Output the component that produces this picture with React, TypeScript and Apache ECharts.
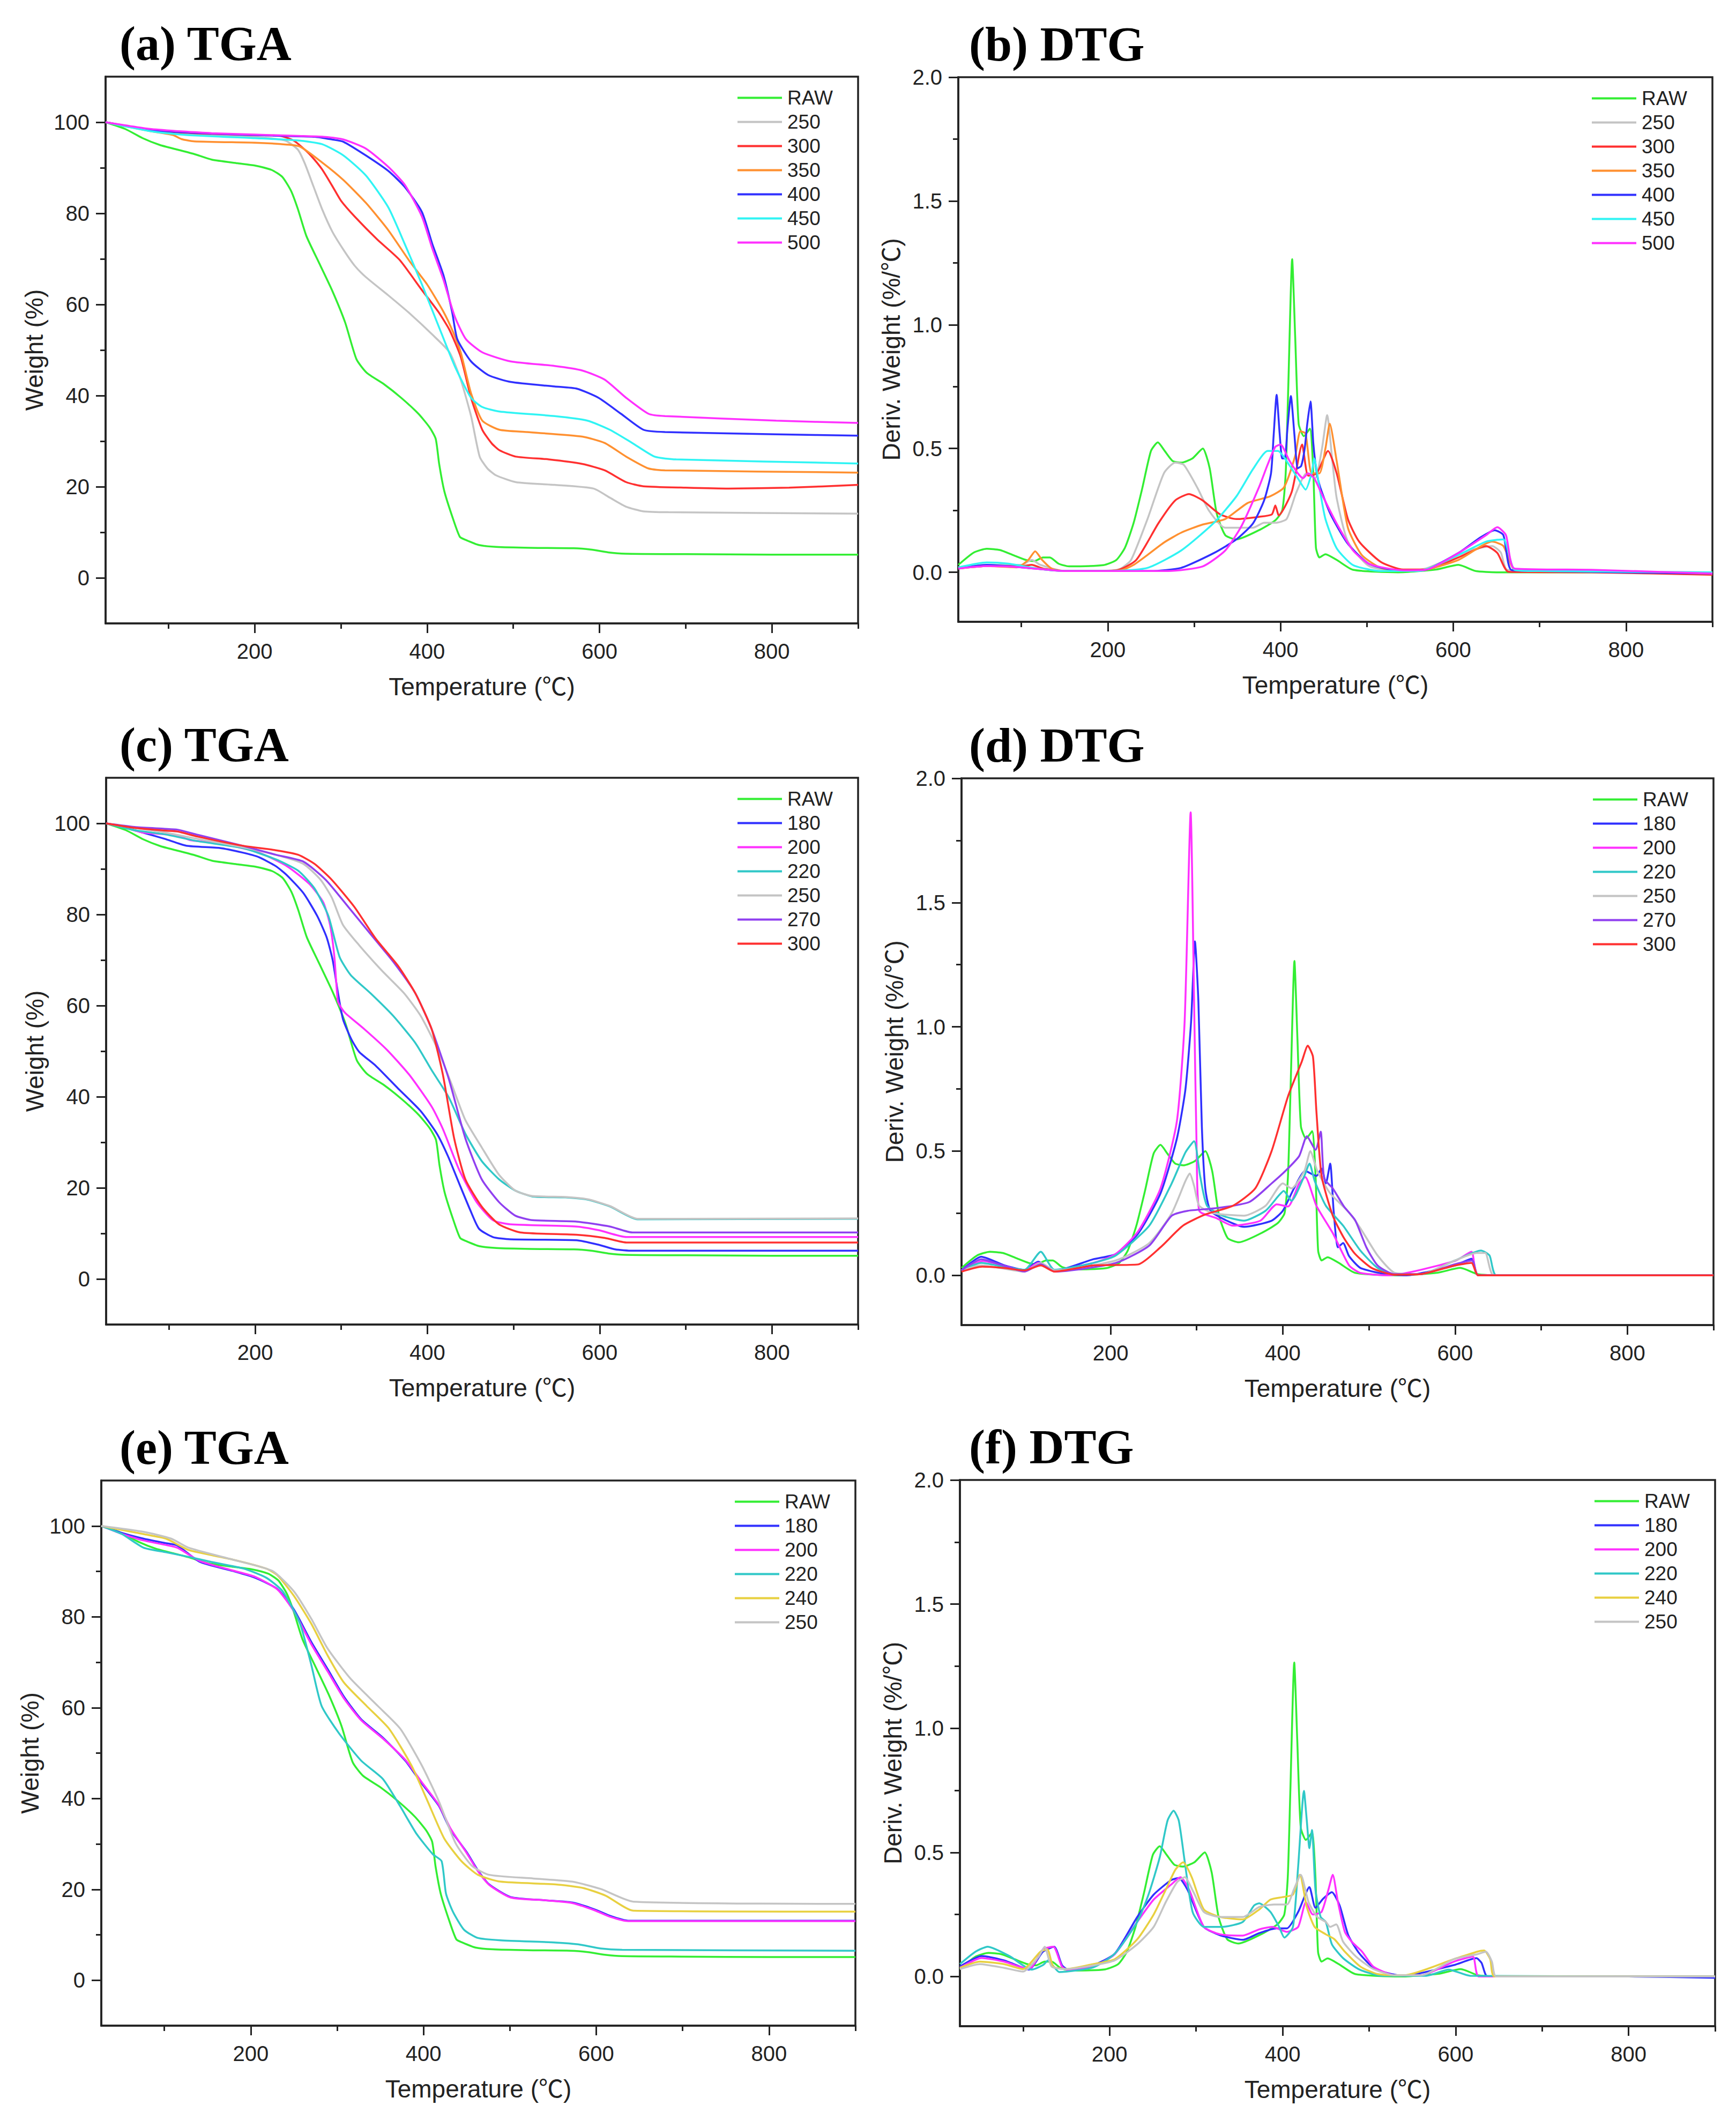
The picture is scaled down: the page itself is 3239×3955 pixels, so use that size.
import * as echarts from 'echarts';
import { useEffect, useRef } from 'react';

type Pt = [number, number];

// ---- TGA curves (weight %, vs temperature °C) ----
const TGA_RAW: Pt[] = [[27,100],[50,98.5],[70,96.5],[90,95],[110,94],[130,93],[150,91.8],[180,91],[200,90.5],[220,89.5],[232,88],[242,85],[250,81],[260,75],[275,69],[290,63],[305,56],[318,48],[330,45],[350,42.5],[370,39.5],[390,36],[403,33],[410,30.5],[414,25],[420,19],[430,13],[438,9],[445,8.3],[460,7.2],[480,6.8],[520,6.6],[570,6.5],[590,6.2],[610,5.6],[630,5.3],[700,5.2],[800,5.1],[900,5.1]];

const TGA_A_250: Pt[] = [[27,100],[70,98.5],[120,97.3],[200,96.8],[235,96],[250,94],[258,91],[268,86],[278,81],[290,76],[303,72],[316,68.5],[329,66],[355,62],[380,58],[406,53.4],[426,49.5],[439,43.5],[451,35.5],[461,26.6],[470,24],[480,22.5],[503,21],[548,20.4],[593,19.6],[612,17.6],[631,15.6],[651,14.6],[680,14.4],[900,14.1]];
const TGA_A_300: Pt[] = [[27,100],[80,98.3],[130,97.6],[200,97.2],[230,97],[245,96],[255,94.5],[265,92.7],[278,89.7],[290,86],[300,82.8],[316,79.3],[342,74.3],[368,69.8],[393,63.4],[413,58.4],[426,54.4],[439,48.5],[451,39.5],[464,32.5],[475,29.5],[484,28],[503,26.6],[541,26],[580,25],[606,23.6],[631,21],[651,20.1],[700,19.8],[750,19.6],[820,19.8],[900,20.4]];
const TGA_A_350: Pt[] = [[27,100],[80,98],[105,97.2],[115,96.3],[130,95.8],[200,95.5],[230,95.2],[252,94.7],[278,91.2],[303,87.3],[329,82.3],[355,76.3],[380,69.4],[400,64.4],[419,58.4],[430,54],[439,49.5],[451,40.5],[464,34.5],[484,32.5],[516,32],[580,31],[606,29.6],[631,26.6],[657,24],[676,23.6],[900,23.1]];
const TGA_A_400: Pt[] = [[27,100],[80,98.3],[150,97.5],[230,97],[270,96.8],[290,96.2],[303,95.7],[329,92.7],[355,89.3],[374,85.8],[394,80.3],[406,73.3],[419,66.4],[429,58.4],[435,52.4],[451,47.5],[471,44.5],[497,43],[548,42],[574,41.5],[599,39.5],[625,36],[651,32.5],[676,32],[805,31.5],[900,31.2]];
const TGA_A_450: Pt[] = [[27,100],[80,98],[120,97.2],[200,96.5],[250,96],[278,95.2],[303,92.7],[329,88.3],[355,81.3],[374,73.3],[394,64.4],[413,55.4],[432,46.5],[451,39.5],[464,37.5],[484,36.5],[548,35.5],[586,34.5],[612,32.5],[638,29.6],[664,26.6],[689,26],[900,25.1]];
const TGA_A_500: Pt[] = [[27,100],[80,98.5],[150,97.6],[250,97],[280,96.8],[303,96.2],[329,94.2],[355,90.2],[374,86.3],[394,79.3],[406,72.3],[419,65.4],[432,57.4],[445,52.4],[464,49.5],[497,47.5],[548,46.5],[580,45.5],[606,43.5],[631,39.5],[657,36],[676,35.5],[805,34.5],[900,34]];

const TGA_C_180: Pt[] = [[27,100],[50,99],[69,98],[95,96.6],[120,95.1],[159,94.6],[185,93.6],[204,92.6],[224,90.6],[237,88.6],[256,84.7],[272,79.7],[283,75],[290,70],[296,63],[302,57],[312,52.5],[321,49.8],[340,46.8],[366,41.8],[392,36.9],[411,31.9],[424,26.9],[437,20.9],[450,15],[460,11],[476,9.2],[496,8.7],[573,8.5],[599,7.5],[618,6.5],[638,6.2],[900,6.2]];
const TGA_C_200: Pt[] = [[27,100],[50,99],[69,98],[95,97.6],[110,97.3],[125,96.3],[159,95.6],[204,93.6],[237,90.6],[263,86.7],[279,82.7],[287,77.7],[292,70.7],[296,61],[300,59.5],[305,58.3],[327,54.8],[353,50.3],[379,44.8],[405,37.8],[418,32.9],[437,23.9],[457,16.9],[476,12.9],[496,12],[573,11.5],[599,10.7],[631,9.2],[900,9.2]];
const TGA_C_220: Pt[] = [[27,100],[60,98.5],[95,97.6],[133,96.1],[185,94.6],[224,92.1],[250,89.6],[269,85.7],[285,79.7],[298,70.7],[311,66.7],[334,62.7],[360,57.8],[386,51.8],[405,45.8],[425,39.8],[444,31.9],[463,25.9],[483,21.9],[502,19.4],[522,18.1],[560,17.9],[586,17.4],[612,15.9],[644,13.1],[900,13.2]];
const TGA_C_250: Pt[] = [[27,100],[60,99],[95,98],[133,96.6],[185,94.8],[224,93.1],[256,91.1],[276,87.6],[289,83.7],[302,77.7],[321,73.2],[347,67.7],[373,62.7],[392,57.8],[411,50.8],[428,42.8],[444,34.9],[463,28.9],[483,22.9],[502,19.4],[522,18.2],[560,18],[586,17.5],[612,16],[644,13.2],[900,13.3]];
const TGA_C_270: Pt[] = [[27,100],[60,99.2],[95,98.8],[110,98.6],[133,97.5],[185,95.1],[224,93.1],[256,91.6],[282,87.6],[308,81.7],[334,75.7],[360,69.7],[386,62.7],[405,54.8],[425,43.8],[444,30.9],[463,21.9],[483,16.9],[502,13.9],[522,12.9],[573,12.6],[612,11.5],[638,10.2],[900,10.2]];
const TGA_C_300: Pt[] = [[27,100],[60,99],[95,98.4],[110,98.2],[133,97.1],[185,95.1],[224,94.1],[250,93.1],[269,91.1],[289,87.6],[315,81.7],[340,74.7],[366,68.7],[386,62.7],[405,54.8],[418,44.8],[431,30.9],[444,21.9],[463,15.9],[483,12],[508,10.2],[573,9.7],[606,9],[631,8],[900,8]];

const TGA_E_180: Pt[] = [[27,100],[50,98.5],[76,97.2],[102,96.2],[115,95.7],[141,92.1],[179,90.1],[205,88.6],[231,86.1],[250,81.6],[270,74.5],[289,68.5],[308,62.4],[328,57.4],[353,53.4],[379,48.3],[398,43.3],[418,38.3],[431,33.2],[450,28.2],[463,24.2],[476,21.1],[501,18.3],[540,17.6],[572,17.1],[598,15.6],[617,14.1],[637,13.1],[900,13.1]];
const TGA_E_200: Pt[] = [[27,100],[50,98.3],[76,96.8],[102,95.8],[115,95.2],[141,92.3],[179,90.2],[205,88.8],[231,86],[250,81.2],[270,74],[289,68],[308,62],[328,57.2],[353,53.2],[379,48.5],[398,43.6],[418,38.5],[431,33.5],[450,28],[463,24],[476,21],[501,18.2],[540,17.6],[572,17],[598,15.4],[617,13.9],[637,13],[900,13]];
const TGA_E_220: Pt[] = [[27,100],[51,98.2],[76,95.2],[102,94.2],[128,93.2],[154,92.1],[192,90.6],[218,88.6],[237,85.6],[257,78.5],[270,69.5],[282,60.4],[302,54.4],[328,48.3],[353,44.3],[373,38.3],[392,32.2],[411,27.7],[421,26.2],[426,19.1],[434,15.1],[447,11.1],[463,9.3],[489,8.8],[553,8.3],[579,7.9],[605,7],[630,6.7],[900,6.5]];
const TGA_E_240: Pt[] = [[27,100],[76,98.2],[102,97.2],[128,94.7],[179,92.6],[218,90.6],[231,89.1],[250,84.6],[270,78.5],[289,71.5],[308,65.5],[334,60.4],[360,55.4],[386,47.3],[405,39.3],[424,31.2],[444,26.2],[463,23.2],[489,21.7],[553,21.1],[585,20.3],[611,18.6],[643,15.3],[900,15.1]];
const TGA_E_250: Pt[] = [[27,100],[76,98.7],[108,97.2],[128,95.2],[179,92.6],[225,90.1],[250,85.6],[270,79.6],[289,73],[315,66.5],[347,60.4],[373,55.4],[398,47.3],[418,39.3],[437,30.2],[456,25.2],[476,23.2],[527,22.4],[572,21.7],[605,20.1],[643,17.3],[900,16.8]];

// ---- DTG curves (deriv. weight %/°C) ----
const DTG_RAW: Pt[] = [[27,0.03],[45,0.08],[60,0.095],[75,0.09],[90,0.07],[105,0.05],[115,0.045],[125,0.06],[133,0.06],[143,0.035],[155,0.024],[195,0.029],[210,0.05],[220,0.1],[230,0.2],[240,0.34],[250,0.49],[258,0.525],[266,0.49],[275,0.45],[285,0.443],[298,0.46],[310,0.5],[318,0.42],[326,0.24],[336,0.15],[349,0.133],[375,0.17],[394,0.21],[402,0.25],[406,0.4],[409,0.75],[413.5,1.265],[417,0.95],[421,0.6],[427,0.55],[434,0.58],[438,0.4],[441,0.1],[445,0.06],[452,0.073],[465,0.05],[484,0.01],[536,0],[580,0.011],[606,0.03],[626,0.005],[650,0],[900,0]];

const DTG_B_250: Pt[] = [[27,0.02],[60,0.03],[100,0.03],[112,0.05],[122,0.03],[150,0.005],[200,0.005],[215,0.015],[227,0.05],[246,0.215],[265,0.4],[278,0.443],[288,0.434],[304,0.34],[317,0.25],[336,0.18],[368,0.18],[381,0.2],[394,0.2],[407,0.215],[418,0.32],[430,0.4],[440,0.38],[448,0.5],[454,0.635],[460,0.45],[465,0.3],[478,0.124],[503,0.024],[542,0.005],[568,0.015],[619,0.088],[645,0.106],[655,0.08],[662,0.011],[700,0.005],[900,0]];
const DTG_B_300: Pt[] = [[27,0.015],[60,0.025],[100,0.025],[112,0.03],[125,0.015],[150,0.005],[210,0.008],[233,0.05],[259,0.2],[278,0.29],[294,0.316],[310,0.29],[330,0.234],[349,0.215],[375,0.224],[390,0.234],[394,0.27],[398,0.23],[413,0.325],[425,0.516],[432,0.39],[442,0.4],[455,0.49],[465,0.4],[478,0.215],[491,0.124],[516,0.042],[542,0.011],[568,0.011],[606,0.06],[638,0.106],[651,0.078],[664,0.002],[760,0],[900,-0.01]];
const DTG_B_350: Pt[] = [[27,0.015],[60,0.025],[95,0.02],[108,0.05],[116,0.085],[124,0.05],[135,0.015],[150,0.005],[215,0.008],[230,0.03],[246,0.07],[265,0.12],[285,0.16],[310,0.193],[336,0.215],[362,0.28],[388,0.307],[404,0.343],[417,0.47],[423,0.57],[429,0.56],[436,0.4],[445,0.4],[452,0.5],[457,0.6],[465,0.45],[478,0.18],[494,0.07],[516,0.018],[542,0.005],[568,0.01],[606,0.05],[645,0.124],[658,0.106],[671,0.01],[700,0.005],[900,-0.005]];
const DTG_B_400: Pt[] = [[27,0.015],[60,0.03],[100,0.02],[150,0.005],[250,0.005],[285,0.018],[323,0.078],[349,0.133],[368,0.197],[381,0.29],[389,0.4],[392,0.55],[395.5,0.717],[399,0.56],[402,0.46],[405,0.46],[408,0.58],[412,0.712],[416,0.56],[420,0.42],[424,0.43],[428,0.5],[431,0.6],[434.7,0.69],[438,0.52],[442,0.4],[446,0.343],[458,0.234],[478,0.115],[503,0.033],[542,0.005],[568,0.01],[606,0.078],[632,0.142],[648,0.17],[658,0.15],[667,0.01],[700,0.005],[900,-0.005]];
const DTG_B_450: Pt[] = [[27,0.02],[60,0.04],[85,0.035],[110,0.02],[130,0.01],[150,0.005],[200,0.005],[246,0.018],[285,0.088],[323,0.2],[349,0.307],[368,0.416],[385,0.49],[397,0.49],[410,0.434],[420,0.38],[429,0.334],[436,0.4],[439,0.46],[445,0.343],[452,0.215],[465,0.097],[484,0.029],[516,0.005],[560,0.005],[606,0.07],[638,0.124],[658,0.133],[671,0.01],[700,0.005],[900,0]];
const DTG_B_500: Pt[] = [[27,0.015],[60,0.025],[100,0.02],[150,0.005],[270,0.005],[310,0.024],[336,0.088],[355,0.188],[375,0.343],[385,0.434],[394,0.507],[400,0.516],[410,0.453],[420,0.4],[426,0.38],[432,0.4],[439,0.38],[449,0.307],[465,0.197],[484,0.088],[503,0.033],[542,0.008],[568,0.01],[606,0.078],[638,0.15],[651,0.182],[661,0.15],[671,0.015],[760,0.01],[900,-0.005]];

const DTG_D_180: Pt[] = [[27,0.02],[50,0.075],[77,0.04],[100,0.022],[116,0.055],[135,0.018],[180,0.065],[206,0.086],[232,0.168],[258,0.33],[277,0.55],[287,0.75],[293.5,1.02],[298,1.344],[302,1.1],[306,0.6],[310,0.35],[316,0.26],[335,0.22],[355,0.195],[387,0.22],[400,0.26],[413,0.35],[426,0.42],[439,0.4],[445,0.43],[450,0.37],[455,0.45],[459,0.26],[464,0.113],[470,0.13],[477,0.077],[490,0.03],[516,0.007],[542,0],[600,0.04],[619,0.067],[627,0],[900,0]];
const DTG_D_200: Pt[] = [[27,0.02],[52,0.058],[80,0.035],[100,0.018],[116,0.05],[135,0.022],[180,0.05],[206,0.086],[232,0.177],[258,0.35],[277,0.62],[286,1.02],[293,1.863],[297,1.1],[300,0.5],[303,0.26],[323,0.23],[342,0.2],[374,0.22],[393,0.286],[406,0.277],[419,0.37],[426,0.396],[439,0.28],[458,0.17],[477,0.04],[490,0.01],[523,0],[600,0.058],[619,0.095],[627,0],[900,0]];
const DTG_D_220: Pt[] = [[27,0.02],[50,0.05],[75,0.035],[100,0.022],[119,0.095],[135,0.022],[180,0.05],[206,0.08],[245,0.2],[271,0.37],[287,0.495],[297,0.54],[304,0.4],[312,0.28],[330,0.24],[355,0.22],[380,0.26],[395,0.32],[401,0.34],[410,0.3],[425,0.4],[431,0.45],[437,0.38],[450,0.28],[470,0.2],[490,0.1],[510,0.03],[530,0.005],[560,0.005],[600,0.06],[630,0.1],[640,0.08],[648,0],[900,0]];
const DTG_D_250: Pt[] = [[27,0.02],[50,0.04],[100,0.015],[119,0.05],[135,0.02],[206,0.06],[245,0.13],[271,0.25],[287,0.38],[292,0.41],[297,0.36],[303,0.28],[320,0.25],[355,0.24],[380,0.28],[400,0.37],[410,0.35],[425,0.42],[432,0.5],[440,0.42],[455,0.33],[475,0.26],[490,0.19],[510,0.08],[530,0.01],[560,0.005],[600,0.06],[625,0.09],[635,0.09],[645,0],[900,0]];
const DTG_D_270: Pt[] = [[27,0.02],[50,0.065],[75,0.04],[100,0.015],[119,0.045],[135,0.015],[206,0.05],[245,0.12],[271,0.24],[290,0.26],[322,0.27],[361,0.295],[387,0.37],[403,0.42],[419,0.48],[428,0.56],[438,0.505],[444,0.578],[448,0.39],[458,0.35],[471,0.277],[484,0.222],[497,0.113],[510,0.04],[529,0.005],[560,0.005],[600,0.045],[620,0.06],[627,0],[900,0]];
const DTG_D_300: Pt[] = [[27,0.015],[51,0.035],[75,0.03],[100,0.02],[119,0.04],[135,0.015],[180,0.04],[232,0.044],[258,0.113],[284,0.2],[310,0.245],[342,0.28],[368,0.35],[387,0.5],[406,0.72],[422,0.86],[429,0.924],[435,0.88],[439,0.66],[445,0.4],[458,0.24],[471,0.15],[484,0.086],[503,0.03],[529,0.003],[560,0.005],[600,0.04],[619,0.05],[627,0],[900,0]];

const DTG_F_180: Pt[] = [[27,0.04],[52,0.083],[78,0.065],[100,0.035],[107,0.028],[123,0.1],[136,0.12],[145,0.046],[152,0.028],[181,0.046],[206,0.092],[232,0.24],[251,0.33],[271,0.388],[280,0.397],[290,0.35],[309,0.2],[328,0.166],[354,0.148],[373,0.175],[393,0.194],[405,0.194],[418,0.26],[431,0.36],[438,0.277],[447,0.314],[457,0.34],[466,0.286],[476,0.166],[489,0.092],[508,0.028],[540,0.003],[598,0.046],[624,0.074],[630,0.055],[637,0],[800,0],[900,-0.005]];
const DTG_F_200: Pt[] = [[27,0.035],[52,0.075],[78,0.06],[107,0.03],[123,0.11],[135,0.12],[145,0.04],[152,0.025],[181,0.04],[206,0.09],[232,0.22],[251,0.31],[271,0.37],[282,0.4],[292,0.35],[309,0.2],[328,0.17],[354,0.165],[373,0.19],[388,0.2],[405,0.18],[418,0.2],[427,0.3],[435,0.25],[445,0.26],[453,0.35],[458,0.41],[464,0.3],[472,0.18],[480,0.14],[492,0.1],[505,0.04],[530,0.005],[560,0.005],[598,0.06],[620,0.08],[627,0],[900,0]];
const DTG_F_220: Pt[] = [[27,0.05],[45,0.1],[59,0.12],[84,0.083],[110,0.028],[123,0.046],[129,0.065],[142,0.018],[181,0.037],[206,0.092],[232,0.22],[245,0.33],[258,0.48],[267,0.628],[274,0.668],[280,0.628],[287,0.46],[296,0.26],[309,0.2],[330,0.2],[354,0.22],[367,0.286],[373,0.295],[386,0.26],[396,0.2],[402,0.157],[412,0.2],[418,0.443],[424.7,0.748],[428,0.628],[431,0.517],[434,0.59],[438,0.35],[444,0.24],[450,0.22],[457,0.13],[470,0.074],[489,0.028],[515,0.003],[566,0.003],[592,0.028],[617,0.003],[900,0]];
const DTG_F_240: Pt[] = [[27,0.035],[50,0.06],[78,0.05],[100,0.03],[120,0.1],[128,0.11],[135,0.04],[150,0.03],[181,0.05],[206,0.07],[232,0.15],[251,0.25],[265,0.35],[276,0.43],[285,0.46],[295,0.4],[309,0.27],[328,0.24],[354,0.23],[373,0.27],[386,0.31],[400,0.32],[412,0.33],[420,0.41],[428,0.28],[437,0.2],[450,0.17],[460,0.15],[472,0.1],[490,0.04],[510,0.01],[540,0.005],[598,0.07],[625,0.1],[633,0.105],[640,0.07],[645,0],[900,0]];
const DTG_F_250: Pt[] = [[27,0.03],[50,0.05],[78,0.035],[100,0.02],[118,0.08],[125,0.12],[133,0.04],[150,0.03],[181,0.045],[206,0.065],[232,0.13],[251,0.2],[265,0.3],[278,0.38],[287,0.4],[297,0.34],[309,0.26],[328,0.24],[354,0.24],[373,0.28],[390,0.29],[405,0.29],[413,0.35],[421,0.41],[430,0.3],[440,0.24],[450,0.22],[455,0.2],[462,0.21],[470,0.14],[485,0.08],[505,0.03],[530,0.005],[560,0.005],[598,0.07],[625,0.09],[635,0.1],[642,0.06],[647,0],[900,0]];

// ---- axis ticks ----
const X_MAJOR = [200, 400, 600, 800];
const X_MINOR = [100, 300, 500, 700, 900];
const TGA_MAJOR = [0, 20, 40, 60, 80, 100];
const TGA_MINOR = [10, 30, 50, 70, 90];
const DTG_MAJOR = [0, 0.5, 1.0, 1.5, 2.0];
const DTG_MINOR = [0.25, 0.75, 1.25, 1.75];

const C = {
  raw: '#33ee33',
  gray: '#c4c4c4',
  red: '#ff3030',
  orange: '#ff9030',
  blue: '#3030ff',
  cyan: '#30f4f4',
  magenta: '#ff30ff',
  teal: '#30c8c8',
  purple: '#9040f0',
  yellow: '#e8d040',
};

interface Line { name: string; color: string; data: Pt[] }
interface Panel {
  key: string;
  title: string;
  kind: 'tga' | 'dtg';
  left: number; top: number; width: number; height: number;
  titleX: number;
  lines: Line[];
}

const PANELS: Panel[] = [
  {
    key: 'a', title: '(a) TGA', kind: 'tga', left: 197, top: 143, width: 1404, height: 1020, titleX: 223,
    lines: [
      { name: 'RAW', color: C.raw, data: TGA_RAW },
      { name: '250', color: C.gray, data: TGA_A_250 },
      { name: '300', color: C.red, data: TGA_A_300 },
      { name: '350', color: C.orange, data: TGA_A_350 },
      { name: '400', color: C.blue, data: TGA_A_400 },
      { name: '450', color: C.cyan, data: TGA_A_450 },
      { name: '500', color: C.magenta, data: TGA_A_500 },
    ],
  },
  {
    key: 'b', title: '(b) DTG', kind: 'dtg', left: 1788, top: 144, width: 1407, height: 1016, titleX: 1808,
    lines: [
      { name: 'RAW', color: C.raw, data: DTG_RAW },
      { name: '250', color: C.gray, data: DTG_B_250 },
      { name: '300', color: C.red, data: DTG_B_300 },
      { name: '350', color: C.orange, data: DTG_B_350 },
      { name: '400', color: C.blue, data: DTG_B_400 },
      { name: '450', color: C.cyan, data: DTG_B_450 },
      { name: '500', color: C.magenta, data: DTG_B_500 },
    ],
  },
  {
    key: 'c', title: '(c) TGA', kind: 'tga', left: 198, top: 1451, width: 1403, height: 1020, titleX: 223,
    lines: [
      { name: 'RAW', color: C.raw, data: TGA_RAW },
      { name: '180', color: C.blue, data: TGA_C_180 },
      { name: '200', color: C.magenta, data: TGA_C_200 },
      { name: '220', color: C.teal, data: TGA_C_220 },
      { name: '250', color: C.gray, data: TGA_C_250 },
      { name: '270', color: C.purple, data: TGA_C_270 },
      { name: '300', color: C.red, data: TGA_C_300 },
    ],
  },
  {
    key: 'd', title: '(d) DTG', kind: 'dtg', left: 1794, top: 1452, width: 1403, height: 1020, titleX: 1808,
    lines: [
      { name: 'RAW', color: C.raw, data: DTG_RAW },
      { name: '180', color: C.blue, data: DTG_D_180 },
      { name: '200', color: C.magenta, data: DTG_D_200 },
      { name: '220', color: C.teal, data: DTG_D_220 },
      { name: '250', color: C.gray, data: DTG_D_250 },
      { name: '270', color: C.purple, data: DTG_D_270 },
      { name: '300', color: C.red, data: DTG_D_300 },
    ],
  },
  {
    key: 'e', title: '(e) TGA', kind: 'tga', left: 189, top: 2762, width: 1407, height: 1017, titleX: 223,
    lines: [
      { name: 'RAW', color: C.raw, data: TGA_RAW },
      { name: '180', color: C.blue, data: TGA_E_180 },
      { name: '200', color: C.magenta, data: TGA_E_200 },
      { name: '220', color: C.teal, data: TGA_E_220 },
      { name: '240', color: C.yellow, data: TGA_E_240 },
      { name: '250', color: C.gray, data: TGA_E_250 },
    ],
  },
  {
    key: 'f', title: '(f) DTG', kind: 'dtg', left: 1791, top: 2761, width: 1409, height: 1019, titleX: 1808,
    lines: [
      { name: 'RAW', color: C.raw, data: DTG_RAW },
      { name: '180', color: C.blue, data: DTG_F_180 },
      { name: '200', color: C.magenta, data: DTG_F_200 },
      { name: '220', color: C.teal, data: DTG_F_220 },
      { name: '240', color: C.yellow, data: DTG_F_240 },
      { name: '250', color: C.gray, data: DTG_F_250 },
    ],
  },
];

const SANS = '"Liberation Sans", Arial, "Noto Sans CJK SC", sans-serif';
const INK = '#222';

function buildOption() {
  const grid: any[] = [];
  const xAxis: any[] = [];
  const yAxis: any[] = [];
  const legend: any[] = [];
  const series: any[] = [];
  const graphic: any[] = [];

  PANELS.forEach((p, i) => {
    const isTga = p.kind === 'tga';
    grid.push({
      left: p.left, top: p.top, width: p.width, height: p.height,
      show: true, borderColor: INK, borderWidth: 3.5, backgroundColor: 'transparent',
    });

    const xBase = { type: 'value', gridIndex: i, min: 27, max: 900, position: 'bottom', splitLine: { show: false } };
    xAxis.push({
      ...xBase,
      axisLine: { show: true, onZero: false, lineStyle: { color: INK, width: 3.5 } },
      axisTick: { show: true, length: 18, customValues: X_MAJOR, lineStyle: { color: INK, width: 3 } },
      axisLabel: { customValues: X_MAJOR, margin: 32, fontSize: 40, fontFamily: SANS, color: INK },
      name: 'Temperature (℃)', nameLocation: 'middle', nameGap: 95,
      nameTextStyle: { fontSize: 46, fontFamily: SANS, color: INK },
    });
    xAxis.push({
      ...xBase,
      axisLine: { show: false, onZero: false },
      axisTick: { show: true, length: 10, customValues: X_MINOR, lineStyle: { color: INK, width: 3 } },
      axisLabel: { show: false, customValues: X_MINOR },
    });

    const yBase = {
      type: 'value', gridIndex: i, position: 'left', splitLine: { show: false },
      min: isTga ? -10 : -0.2, max: isTga ? 110 : 2.0,
    };
    const major = isTga ? TGA_MAJOR : DTG_MAJOR;
    const minor = isTga ? TGA_MINOR : DTG_MINOR;
    yAxis.push({
      ...yBase,
      axisLine: { show: true, onZero: false, lineStyle: { color: INK, width: 3.5 } },
      axisTick: { show: true, length: 18, customValues: major, lineStyle: { color: INK, width: 3 } },
      axisLabel: {
        customValues: major, margin: 30, fontSize: 40, fontFamily: SANS, color: INK,
        formatter: (v: number) => (isTga ? String(v) : v.toFixed(1)),
      },
      name: isTga ? 'Weight (%)' : 'Deriv. Weight (%/℃)',
      nameLocation: 'middle', nameGap: isTga ? 110 : 102,
      nameTextStyle: { fontSize: 46, fontFamily: SANS, color: INK },
    });
    yAxis.push({
      ...yBase,
      axisLine: { show: false, onZero: false },
      axisTick: { show: true, length: 10, customValues: minor, lineStyle: { color: INK, width: 3 } },
      axisLabel: { show: false, customValues: minor },
    });

    p.lines.forEach((l) => {
      series.push({
        type: 'line',
        name: `${p.key}:${l.name}`,
        xAxisIndex: 2 * i,
        yAxisIndex: 2 * i,
        data: l.data,
        symbol: 'none',
        showSymbol: false,
        smooth: 0.2,
        lineStyle: { color: l.color, width: 3.5 },
        itemStyle: { color: l.color },
      });
    });

    legend.push({
      data: p.lines.map((l) => `${p.key}:${l.name}`),
      orient: 'vertical',
      left: p.left + p.width - 230,
      top: p.top + 16,
      icon: 'rect',
      itemWidth: 83,
      itemHeight: 4,
      itemGap: 8,
      itemStyle: { borderWidth: 0 },
      selectedMode: false,
      formatter: (n: string) => n.split(':')[1],
      textStyle: { fontSize: 37, lineHeight: 37, fontFamily: SANS, color: INK, padding: [0, 0, 0, 5] },
    });

    graphic.push({
      type: 'text',
      x: p.titleX,
      y: p.top - 62,
      style: {
        text: p.title,
        fontSize: 90,
        fontWeight: 'bold',
        fontFamily: '"Liberation Serif", "Times New Roman", serif',
        fill: '#000',
        verticalAlign: 'middle',
      },
    });
  });

  return { animation: false, backgroundColor: '#fff', grid, xAxis, yAxis, legend, series, graphic };
}

export default function App() {
  const chartRef = useRef<HTMLDivElement>(null);

  useEffect(() => {
    document.body.style.margin = '0';
    if (!chartRef.current) return;
    const chart = echarts.init(chartRef.current, undefined, { renderer: 'svg' });
    chart.setOption(buildOption());
    return () => chart.dispose();
  }, []);

  return <div ref={chartRef} style={{ width: 3239, height: 3955 }} />;
}
